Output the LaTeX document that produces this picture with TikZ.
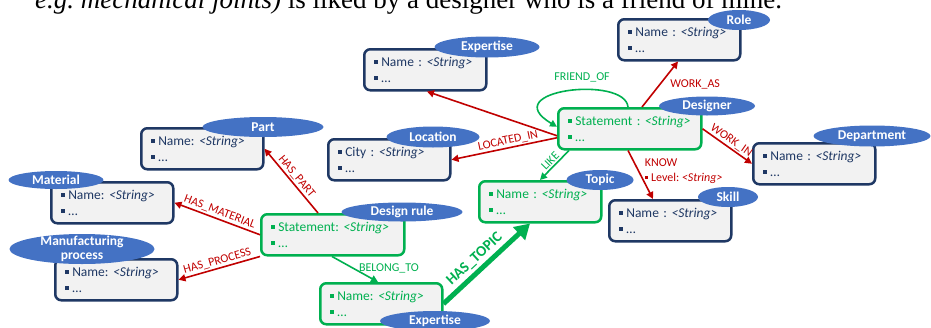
\documentclass[tikz,border=0pt]{standalone}
\usepackage{fontspec}
\setmainfont{Carlito}
\newfontfamily\capfont{Liberation Serif}
\usetikzlibrary{shapes.geometric}
\usetikzlibrary{arrows.meta}

\definecolor{navy}{HTML}{1F3864}
\definecolor{kggreen}{HTML}{00B050}
\definecolor{kgred}{HTML}{C00000}
\definecolor{tagblue}{HTML}{4472C4}
\definecolor{boxgray}{HTML}{F2F2F2}
\newcommand{\bul}{\rule[0.2em]{0.27em}{0.27em}\hspace{0.25em}}
\frenchspacing

\begin{document}
\begin{tikzpicture}[x=1pt, y=-1pt,
  entity/.style={draw=navy, fill=boxgray, line width=2.5pt, rounded corners=6pt, anchor=north west,
    minimum height=41pt, text width=102pt, inner xsep=10pt, align=left, text=navy,
    font=\fontsize{13.5}{16}\selectfont},
  gentity/.style={entity, draw=kggreen, text=kggreen},
  tag/.style={ellipse, fill=tagblue, text=white, inner sep=0pt, font=\bfseries\fontsize{13.5}{14}\selectfont},
  rel/.style={draw=kgred, line width=1.6pt, -{Triangle[width=7pt,length=7pt]}},
  grel/.style={rel, draw=kggreen},
  rlab/.style={text=kgred, inner sep=1.5pt, font=\fontsize{12}{15}\selectfont},
  glab/.style={rlab, text=kggreen}]

  \useasboundingbox (0,0) rectangle (931,327);
  \clip (0,0) rectangle (931,327);

  % cut-off line of the page text
  \node[anchor=base west, inner sep=0pt, font=\capfont\fontsize{27}{30}\selectfont] (caption) at (35,8)
    {\textit{e.g. mechanical joints)} is liked by a designer who is a friend of mine.};

  % boxes
  \node[entity] (role) at (617,18) {\bul Name : \textit{<String>}\\\bul\ldots};
  \node[entity] (exptop) at (363,48) {\bul Name : \textit{<String>}\\\bul\ldots};
  \node[entity] (location) at (327,138) {\bul City : \textit{<String>}\\\bul\ldots};
  \node[entity] (part) at (140,127) {\bul Name: \textit{<String>}\\\bul\ldots};
  \node[entity] (material) at (50,181) {\bul Name: \textit{<String>}\\\bul\ldots};
  \node[entity] (manuf) at (54,258) {\bul Name: \textit{<String>}\\\bul\ldots};
  \node[gentity, text width=123pt] (drule) at (260,213) {\bul Statement: \textit{<String>}\\\bul\ldots};
  \node[gentity] (expbot) at (319,282) {\bul Name: \textit{<String>}\\\bul\ldots};
  \node[gentity] (topic) at (478,180) {\bul Name : \textit{<String>}\\\bul\ldots};
  \node[gentity, text width=123pt] (designer) at (557,107) {\bul Statement : \textit{<String>}\\\bul\ldots};
  \node[entity] (skill) at (608,199) {\bul Name : \textit{<String>}\\\bul\ldots};
  \node[entity] (dept) at (752,142) {\bul Name : \textit{<String>}\\\bul\ldots};

  % relations
  \draw[rel] ([xshift=58pt]drule.north west) -- node[rlab, sloped, above] (lpart) {HAS\_PART} (part.east);
  \draw[rel] (drule.west) -- node[rlab, sloped, above] (lmat) {HAS\_MATERIAL} (material.east);
  \draw[rel] (drule.south west) -- node[rlab, sloped, above] (lproc) {HAS\_PROCESS} (manuf.east);
  \draw[grel] ([xshift=72pt]drule.south west) -- node[glab, right, pos=0.45, xshift=4pt] (lbelong) {BELONG\_TO} ([xshift=59pt]expbot.north west);
  \draw[kggreen, line width=5pt, -{Triangle[width=17pt,length=15pt]}] (expbot.east)
    -- node[sloped, above, pos=0.45, inner sep=3pt, text=kggreen, font=\bfseries\fontsize{15}{15}\selectfont] (ltopic) {HAS\_TOPIC}
    ([xshift=52pt]topic.south west);
  \draw[grel] ([xshift=12pt]designer.south west) -- node[glab, sloped, above, pos=0.5] (llike) {LIKE} ([xshift=62pt]topic.north west);
  \draw[rel] ([yshift=-9pt]designer.west) -- node[rlab, sloped, above, pos=0.45] (lloc) {LOCATED\_IN} (location.east);
  \draw[rel] ([yshift=-7pt]designer.west) -- ([xshift=64pt]exptop.south west);
  \draw[rel] ([xshift=85pt]designer.north west) -- node[rlab, right, xshift=8pt] (lworkas) {WORK\_AS} ([xshift=61pt]role.south west);
  \draw[rel] (designer.east) -- node[rlab, sloped, above] (lworkin) {WORK\_IN} (dept.west);
  \draw[rel] ([xshift=71pt]designer.south west) -- node[rlab, right, align=left, pos=0.42, xshift=4pt] (lknow) {KNOW\\\bul Level: \textit{<String>}} ([xshift=45pt]skill.north west);
  \draw[grel] ([xshift=71pt]designer.north west) .. controls (625,75) and (495,90) .. ([yshift=2pt]designer.west);
  \node[glab] (lfriend) at (582,77) {FRIEND\_OF};

  % labels on the boxes
  \node[tag, minimum width=62pt, minimum height=20pt] (roletag) at (739,20) {Role};
  \node[tag, minimum width=105pt, minimum height=21pt] (exptoptag) at (487,47) {Expertise};
  \node[tag, minimum width=93pt, minimum height=21pt] (loctag) at (433,137) {Location};
  \node[tag, minimum width=121pt, minimum height=20pt] (parttag) at (263,127) {Part};
  \node[tag, minimum width=95pt, minimum height=18pt] (mattag) at (56,180) {Material};
  \node[tag, minimum width=145pt, minimum height=30pt, inner ysep=-7pt, align=center] (manuftag) at (82,249) {Manufacturing\\process};
  \node[tag, minimum width=121pt, minimum height=19pt] (ruletag) at (402,212) {Design rule};
  \node[tag, minimum width=110pt, minimum height=20pt] (expbottag) at (435,321) {Expertise};
  \node[tag, minimum width=67pt, minimum height=20pt] (topictag) at (600,180) {Topic};
  \node[tag, minimum width=96pt, minimum height=19pt] (designertag) at (707,106) {Designer};
  \node[tag, minimum width=60pt, minimum height=20pt] (skilltag) at (728,197) {Skill};
  \node[tag, minimum width=117pt, minimum height=21pt] (depttag) at (872,136) {Department};

\end{tikzpicture}
\end{document}
